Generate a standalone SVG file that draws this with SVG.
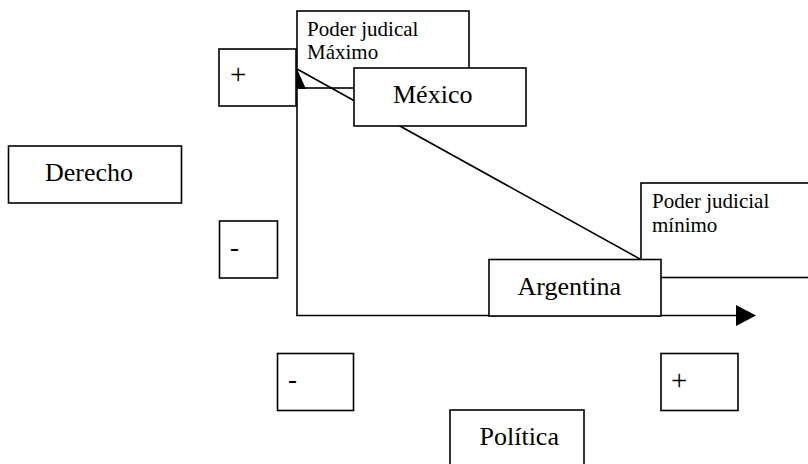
<svg xmlns="http://www.w3.org/2000/svg" width="808" height="464" viewBox="0 0 808 464">
<style>
.box{fill:#fff;stroke:#000;stroke-width:1.6}
.ln{stroke:#000;stroke-width:1.6;fill:none}
</style>
<rect width="808" height="464" fill="#fff"/>
<g font-family="'Liberation Serif', 'DejaVu Serif', serif" fill="#000">
<g id="maximo">
<rect class="box" x="297" y="11" width="172" height="77"/>
<text font-size="21" x="307" y="35.5">Poder judical</text>
<text font-size="21" x="307" y="59">Máximo</text>
</g>
<g id="minimo">
<rect class="box" x="641" y="183" width="180" height="94.5"/>
<text font-size="21" x="652" y="208">Poder judicial</text>
<text font-size="21" x="652" y="231.5">mínimo</text>
</g>
<g id="connectors">
<line class="ln" x1="297" y1="80" x2="297" y2="316"/>
<polygon points="288,89 297,69 306,89" fill="#000"/>
<line class="ln" x1="296" y1="315.5" x2="738" y2="315.5"/>
<polygon points="736,305 756,315.5 736,326" fill="#000"/>
<line class="ln" x1="297" y1="69" x2="640" y2="259"/>
</g>
<g id="plus-y">
<rect class="box" x="219" y="49" width="77" height="57"/>
<text font-size="29" x="230" y="84">+</text>
</g>
<g id="mexico">
<rect class="box" x="354" y="68" width="172" height="58"/>
<text font-size="26" x="393" y="103">México</text>
</g>
<g id="argentina">
<rect class="box" x="489" y="259.5" width="172" height="56.5"/>
<text font-size="26" x="517.5" y="295">Argentina</text>
</g>
<g id="derecho">
<rect class="box" x="8.5" y="146" width="173" height="57"/>
<text font-size="26" x="45" y="181">Derecho</text>
</g>
<g id="minus-y">
<rect class="box" x="219.5" y="221" width="58" height="57"/>
<text font-size="27" x="230" y="256">-</text>
</g>
<g id="minus-x">
<rect class="box" x="277.5" y="353.5" width="76" height="57"/>
<text font-size="27" x="288" y="388">-</text>
</g>
<g id="plus-x">
<rect class="box" x="661" y="353.5" width="77" height="57"/>
<text font-size="29" x="671" y="390">+</text>
</g>
<g id="politica">
<rect class="box" x="450" y="410" width="134" height="60"/>
<text font-size="26" x="479.5" y="445">Política</text>
</g>
</g>
</svg>
